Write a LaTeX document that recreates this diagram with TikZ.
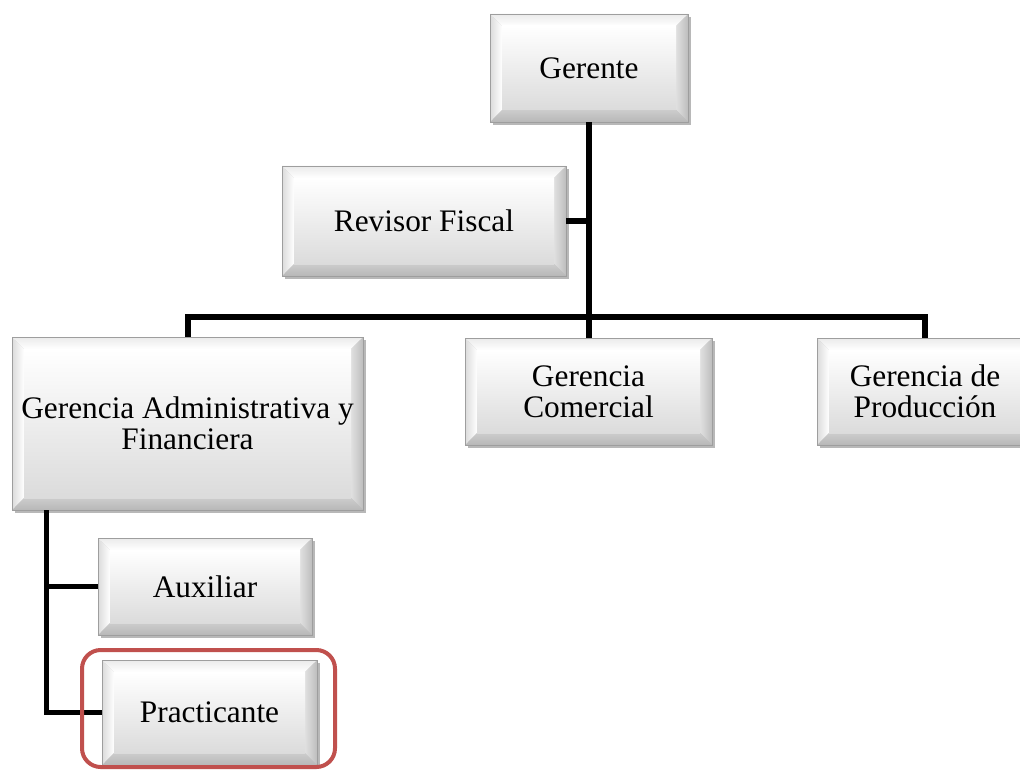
\documentclass[tikz,border=0pt]{standalone}
\usepackage{fontspec}
\setmainfont{Liberation Serif}
\usetikzlibrary{calc,shadows}
\newcommand\boxfont{\fontsize{23.5}{23.5}\selectfont}
\def\bw{9pt}
\definecolor{bevred}{HTML}{C0504D}
\tikzset{
  bev/.style={draw=black!38, line width=0.6pt, font=\boxfont, align=center, inner sep=0pt,
    drop shadow={shadow xshift=2.2pt, shadow yshift=-2.2pt, fill=black, opacity=0.28},
    path picture={
      \path (path picture bounding box.north west) coordinate (pNW)
            (path picture bounding box.north east) coordinate (pNE)
            (path picture bounding box.south east) coordinate (pSE)
            (path picture bounding box.south west) coordinate (pSW);
      \path ($(pNW)+(\bw,-\bw)$) coordinate (iNW)
            ($(pNE)+(-\bw,-\bw)$) coordinate (iNE)
            ($(pSE)+(-\bw,\bw)$) coordinate (iSE)
            ($(pSW)+(\bw,\bw)$) coordinate (iSW);
      \shade[top color=black!8, bottom color=white] (pNW) -- (pNE) -- (iNE) -- (iNW) -- cycle;
      \shade[left color=black!14, right color=white] (pNW) -- (iNW) -- (iSW) -- (pSW) -- cycle;
      \shade[left color=black!12, right color=black!26] (pNE) -- (iNE) -- (iSE) -- (pSE) -- cycle;
      \shade[top color=black!20, bottom color=black!28] (pSW) -- (iSW) -- (iSE) -- (pSE) -- cycle;
      \shade[top color=white, bottom color=black!14] (iNW) rectangle (iSE);
    }},
  conn/.style={line width=4.5pt, black},
  subconn/.style={line width=3.8pt, black},
  hilite/.style={draw=bevred, line width=3pt, rounded corners=14pt}
}
\newcommand\bbox[6]{\node[bev, minimum width={(#4-#2)*0.75pt}, minimum height={(#5-#3)*0.75pt}] (#1) at ({(#2+#4)/2},{(#3+#5)/2}) {#6};}
\begin{document}
\begin{tikzpicture}[x=0.75pt,y=-0.75pt]
\clip (0,0) rectangle (1020,770);
\fill[white] (0,0) rectangle (1020,770);
% boxes
\bbox{ger}{490}{14}{688}{122}{Gerente}
\bbox{rev}{282}{166}{566}{276}{Revisor Fiscal}
\bbox{adm}{12}{337}{363}{510}{Gerencia Administrativa y\\Financiera}
\bbox{com}{465}{338}{712}{445}{Gerencia\\Comercial}
\bbox{prod}{817}{338}{1033}{445}{Gerencia de\\Producción}
\bbox{aux}{98}{538}{312}{635}{Auxiliar}
\bbox{prac}{102}{660}{317}{765}{Practicante}
% connectors
\coordinate (bus) at (588,317);
\draw[conn] (ger.south) -- (ger.south |- com.north);
\draw[conn] (adm.north) |- (bus) -| (prod.north);
\draw[subconn] (rev.east) -- (rev.east -| ger.south);
\coordinate (lt) at ([xshift=26.25pt]adm.south west);
\draw[subconn] (lt) |- (prac.west);
\draw[subconn] (lt |- aux.west) -- (aux.west);
% highlight
\draw[hilite] (82,650) rectangle (335,767);
\end{tikzpicture}
\end{document}
